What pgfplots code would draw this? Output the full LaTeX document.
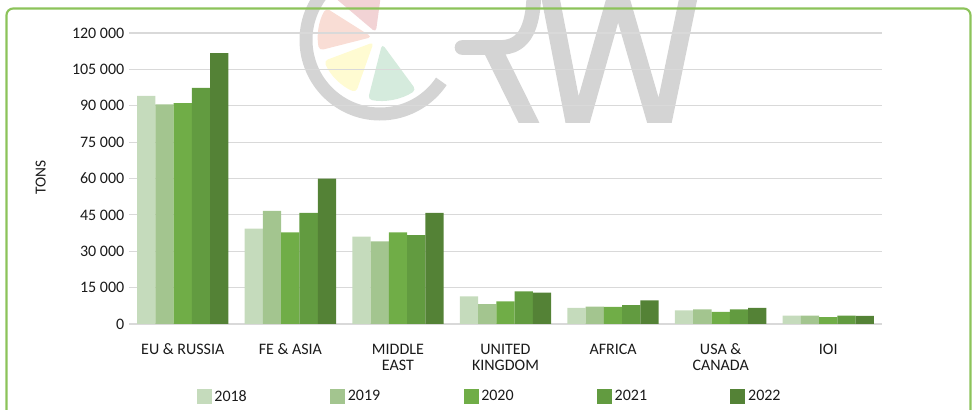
\documentclass[border=0pt]{standalone}
\usepackage{pgfplots}
\pgfplotsset{compat=1.18}
\usepackage{fontspec}
\setmainfont{Carlito}
\definecolor{c18}{HTML}{C5DBBC}
\definecolor{c19}{HTML}{A3C58F}
\definecolor{c20}{HTML}{70AD47}
\definecolor{c21}{HTML}{629B40}
\definecolor{c22}{HTML}{548236}
\definecolor{gridc}{HTML}{D9D9D9}
\definecolor{framec}{HTML}{8CC35A}
\definecolor{wm}{HTML}{D4D4D4}
\definecolor{wpink}{HTML}{F2D3D5}
\definecolor{wsalmon}{HTML}{F9DDD5}
\definecolor{wyellow}{HTML}{FFFBD2}
\definecolor{wgreen}{HTML}{D5EBDD}
\definecolor{txt}{HTML}{1A1A1A}
\begin{document}
\begin{tikzpicture}[x=0.75pt,y=0.75pt]
\useasboundingbox (0,0) rectangle (978,410);
% watermark (decorative)
\fill[wpink,rounded corners=3pt] ([shift={(111:4.5pt)}]378,372) -- ([shift={(85:45pt)}]378,372) arc[start angle=85,end angle=137,radius=45pt] -- cycle;
\fill[wsalmon,rounded corners=3pt] ([shift={(171:4.5pt)}]378,372) -- ([shift={(150:45pt)}]378,372) arc[start angle=150,end angle=192,radius=45pt] -- cycle;
\fill[wyellow,rounded corners=3pt] ([shift={(225:4.5pt)}]378,372) -- ([shift={(203:44pt)}]378,372) arc[start angle=203,end angle=248,radius=44pt] -- cycle;
\fill[wgreen,rounded corners=3pt] ([shift={(281:4.5pt)}]381,372) -- ([shift={(258:47pt)}]381,372) arc[start angle=258,end angle=304,radius=47pt] -- cycle;
\draw[wm,line width=9.75pt] ([shift={(60:55.5pt)}]380,370) arc[start angle=60,end angle=326,radius=55.5pt];
\begin{scope}[shift={(0,410)},yscale=-1]
  \clip (0,-30) rectangle (978,123);
  \draw[wm,line width=13.5pt,line join=miter] (549,-10) -- (577,135) -- (618,-10) -- (660,135) -- (690,-10);
  \draw[wm,line width=14pt] (492,48) -- (535,135);
  \draw[wm,line width=11pt,line cap=round] (462,47.5) -- (500,47.5) .. controls (526,47.5) and (534,25) .. (534,-12);
\end{scope}
% frame
\draw[framec,line width=1.6pt,rounded corners=5pt] (6.5,-20) -- (6.5,401.5) -- (970.5,401.5) -- (970.5,-20);
\begin{axis}[
  at={(96.75pt,64.5pt)}, anchor=south west,
  width=564.75pt, height=218.25pt, scale only axis,
  xmin=-0.5, xmax=6.5, ymin=0, ymax=120000,
  scaled y ticks=false,
  ybar=0pt, bar width=13.7pt,
  axis line style={draw=none},
  major tick length=0pt,
  ymajorgrids, grid style={draw=gridc,line width=0.8pt},
  ytick={0,15000,30000,45000,60000,75000,90000,105000,120000},
  yticklabels={0,15 000,30 000,45 000,60 000,75 000,90 000,105 000,120 000},
  yticklabel style={font=\fontsize{12}{12}\selectfont, text=txt},
  xtick={0,1,2,3,4,5,6},
  xticklabels={EU \& RUSSIA,FE \& ASIA,MIDDLE\\EAST,UNITED\\KINGDOM,AFRICA,USA \&\\CANADA,IOI},
  xticklabel style={font=\fontsize{12}{12}\selectfont, text=txt, align=center, anchor=north, yshift=-11.5pt},
  ylabel={TONS},
  ylabel style={at={(axis description cs:-0.1173,0.503)}, anchor=center, font=\fontsize{11.5}{12}\selectfont, text=txt},
  legend columns=5,
  legend style={at={(axis description cs:0.4794,-0.2500)}, anchor=center, draw=none, fill=none,
    font=\fontsize{12}{12}\selectfont, text=txt,
    /tikz/every even column/.append style={column sep=60.5pt}},
  legend image code/.code={\fill[#1] (0pt,-5.6pt) rectangle (11.25pt,5.6pt);},
  clip=false,
]
\addplot[fill=c18,draw=none] coordinates {(0,94100) (1,39300) (2,36000) (3,11400) (4,6700) (5,5600) (6,3500)};
\addplot[fill=c19,draw=none] coordinates {(0,90600) (1,46700) (2,34100) (3,8200) (4,7200) (5,6000) (6,3500)};
\addplot[fill=c20,draw=none] coordinates {(0,91100) (1,37800) (2,37800) (3,9300) (4,7100) (5,5000) (6,2800)};
\addplot[fill=c21,draw=none] coordinates {(0,97400) (1,45800) (2,36700) (3,13500) (4,7800) (5,6000) (6,3500)};
\addplot[fill=c22,draw=none] coordinates {(0,111700) (1,59900) (2,45800) (3,12900) (4,9700) (5,6700) (6,3300)};
\legend{2018,2019,2020,2021,2022}
\end{axis}
\end{tikzpicture}
\end{document}
